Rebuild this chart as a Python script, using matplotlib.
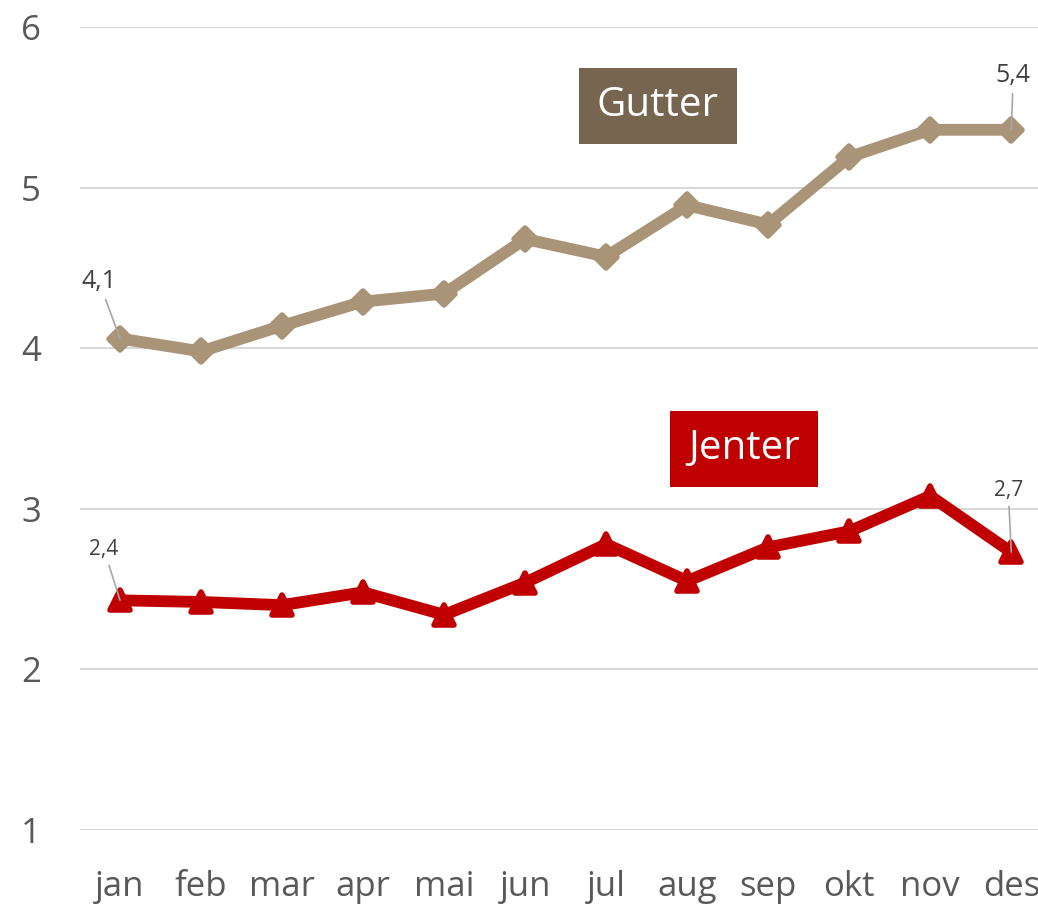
import matplotlib
matplotlib.use('Agg')
import matplotlib.pyplot as plt
from matplotlib.markers import MarkerStyle

months = ['jan', 'feb', 'mar', 'apr', 'mai', 'jun', 'jul', 'aug', 'sep', 'okt', 'nov', 'des']
gutter = [4.06, 3.98, 4.14, 4.29, 4.34, 4.68, 4.57, 4.89, 4.77, 5.19, 5.36, 5.36]
jenter = [2.43, 2.42, 2.40, 2.48, 2.34, 2.54, 2.78, 2.55, 2.76, 2.86, 3.08, 2.73]
y_ticks = [1, 2, 3, 4, 5, 6]

GUTTER_LINE = '#A99478'
GUTTER_BOX = '#766650'
JENTER_RED = '#C00000'
TICK_GREY = '#595959'
LABEL_GREY = '#404040'

plt.rcParams['font.family'] = ['Open Sans', 'DejaVu Sans']

fig = plt.figure(figsize=(10.38, 9.06), dpi=100)
ax = fig.add_axes([80 / 1038, 76 / 906, 958 / 1038, 803 / 906])

x = list(range(len(months)))

# Gutter line
ax.plot(x, gutter, color=GUTTER_LINE, linewidth=8.5,
        solid_joinstyle='round', solid_capstyle='round',
        marker=MarkerStyle('D', joinstyle='round'), markersize=11.5,
        markeredgewidth=4, markerfacecolor=GUTTER_LINE,
        markeredgecolor=GUTTER_LINE, clip_on=False, zorder=3)

# Jenter line
ax.plot(x, jenter, color=JENTER_RED, linewidth=8.5,
        solid_joinstyle='round', solid_capstyle='round',
        marker=MarkerStyle('^', joinstyle='round'), markersize=15,
        markeredgewidth=4, markerfacecolor=JENTER_RED,
        markeredgecolor=JENTER_RED, clip_on=False, zorder=3)

# data labels with leader lines
def label_point(i, vals, dx, dy, size):
    txt = f'{vals[i]:.1f}'.replace('.', ',')
    ax.annotate(txt, xy=(i, vals[i]), xytext=(dx, dy), textcoords='offset pixels',
                ha='center', va='center', fontsize=size, color=LABEL_GREY,
                arrowprops=dict(arrowstyle='-', color='#A6A6A6', lw=1.2,
                                shrinkA=2, shrinkB=0),
                zorder=4, annotation_clip=False)

label_point(0, gutter, -21, 57, 18)
label_point(11, gutter, 2, 54, 18)
label_point(0, jenter, -16, 51, 15)
label_point(11, jenter, -3, 62, 15)

# series name boxes
ax.text(0.603, 0.9016, 'Gutter', transform=ax.transAxes, ha='center', va='center',
        fontsize=29, color='white',
        bbox=dict(boxstyle='square,pad=0.45', facecolor=GUTTER_BOX, edgecolor='none'))
ax.text(0.693, 0.4745, 'Jenter', transform=ax.transAxes, ha='center', va='center',
        fontsize=29, color='white',
        bbox=dict(boxstyle='square,pad=0.45', facecolor=JENTER_RED, edgecolor='none'))

ax.set_xlim(-0.494, 11.33)
ax.set_ylim(1, 6)
ax.set_yticks(y_ticks)
ax.set_xticks(x)
ax.set_xticklabels(months)
ax.tick_params(axis='both', length=0, labelsize=25, labelcolor=TICK_GREY)
ax.tick_params(axis='y', pad=28)
ax.tick_params(axis='x', pad=29)
ax.grid(axis='y', color='#D9D9D9', linewidth=1.5)
ax.set_axisbelow(True)
for s in ax.spines.values():
    s.set_visible(False)

fig.savefig('out.png', dpi=100)
